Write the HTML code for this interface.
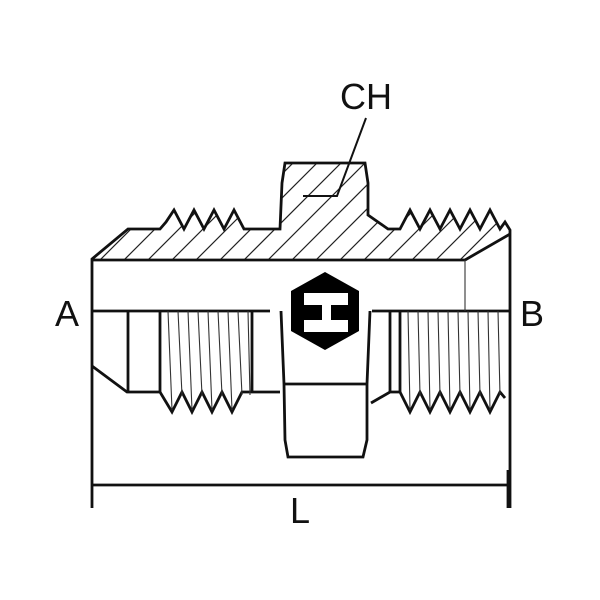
<!DOCTYPE html>
<html><head><style>
html,body{margin:0;padding:0;background:#fff;}
svg{display:block}
text{font-family:"Liberation Sans",sans-serif;fill:#111}
</style></head><body>
<svg width="600" height="600" viewBox="0 0 600 600" xmlns="http://www.w3.org/2000/svg">
<defs>
<clipPath id="hc">
<polygon points="92,259 128,229 160,229 166,222 174,210 184,229 194,210 204,229 214,210 224,229 234,210 244,229 252,229 280,229 282,183 285,163 365,163 368,183 368,215 388,229 400,229 410,210 420,229 430,210 440,229 450,210 460,229 470,210 480,229 490,210 500,229 505,222 510,230 510,234 465,260 92,260"/>
</clipPath>
</defs>
<g clip-path="url(#hc)" stroke="#222" stroke-width="1.2">
<path d="M80,280 L260,100 M104,280 L284,100 M128,280 L308,100 M152,280 L332,100 M176,280 L356,100 M200,280 L380,100 M224,280 L404,100 M248,280 L428,100 M272,280 L452,100 M296,280 L476,100 M320,280 L500,100 M344,280 L524,100 M368,280 L548,100 M392,280 L572,100 M416,280 L596,100 M440,280 L620,100 M464,280 L644,100 M488,280 L668,100 M56,280 L236,100"/>
</g>
<g fill="none" stroke="#111" stroke-width="2.8" stroke-linejoin="miter">
<polyline points="92,508 92,259 128,229 160,229 166,222 174,210 184,229 194,210 204,229 214,210 224,229 234,210 244,229 252,229 280,229 282,183 285,163 365,163 368,183 368,215 388,229 400,229 410,210 420,229 430,210 440,229 450,210 460,229 470,210 480,229 490,210 500,229 505,222 510,230 510,508"/>
<line x1="92" y1="260" x2="465" y2="260"/>
<line x1="510" y1="234" x2="465" y2="260"/>
<line x1="92" y1="311" x2="270" y2="311"/>
<line x1="372" y1="311" x2="510" y2="311"/>
<polyline points="92,366 127,392 160,392 166,402 172,412 182,392 192,412 202,392 212,412 222,392 232,412 242,392 252,392 280,392"/>
<line x1="128" y1="311" x2="128" y2="392"/>
<line x1="160" y1="311" x2="160" y2="392"/>
<line x1="252" y1="311" x2="252" y2="392"/>
<polyline points="281,311 284,384 285,440 288,457 363,457 367,440 367,384 370,311"/>
<line x1="284" y1="384" x2="367" y2="384"/>
<polyline points="371,403 390,392 400,392 410,412 420,392 430,412 440,392 450,412 460,392 470,412 480,392 490,412 500,392 505,398"/>
<line x1="390" y1="311" x2="390" y2="392"/>
<line x1="400" y1="311" x2="400" y2="392"/>
<line x1="92" y1="485" x2="508" y2="485"/>
<line x1="508" y1="470" x2="508" y2="508"/>
<polyline points="366,118 337,196 303,196" stroke-width="2"/>
</g>
<g stroke="#333" stroke-width="1.1">
<line x1="465" y1="260" x2="465" y2="311"/>
<path d="M168,311 L172,410 M178,311 L182,395 M188,311 L192,410 M198,311 L202,395 M208,311 L212,410 M218,311 L222,395 M228,311 L232,410 M238,311 L242,395 M248,311 L250,395"/>
<path d="M408,311 L410,410 M418,311 L420,395 M428,311 L430,410 M438,311 L440,395 M448,311 L450,410 M458,311 L460,395 M468,311 L470,410 M478,311 L480,395 M488,311 L490,410 M498,311 L500,395"/>
</g>
<polygon points="325,272 359,291 359,331 325,350 291,331 291,291" fill="#000"/>
<g fill="#fff">
<rect x="304" y="293" width="44" height="12"/>
<rect x="322" y="304" width="9" height="17"/>
<rect x="304" y="320" width="44" height="12"/>
</g>
<text x="67" y="326" font-size="36" text-anchor="middle">A</text>
<text x="532" y="326" font-size="36" text-anchor="middle">B</text>
<text x="300" y="523" font-size="36" text-anchor="middle">L</text>
<text x="366" y="109" font-size="36" text-anchor="middle">CH</text>
</svg>
</body></html>
